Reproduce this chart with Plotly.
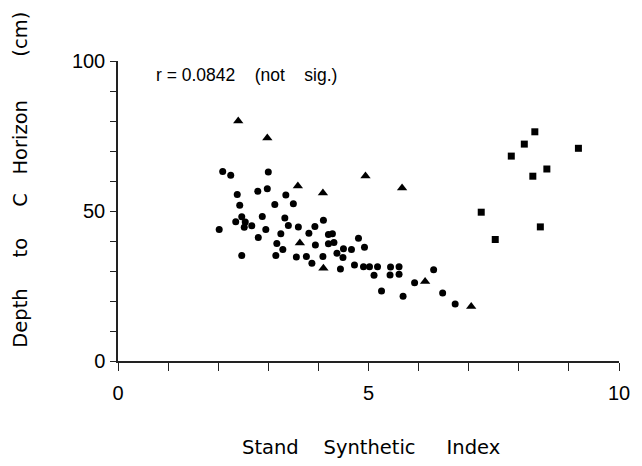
import plotly.graph_objects as go

# Stand Synthetic Index (x) vs Depth to C Horizon, cm (y)
circle_x = [2.09, 2.25, 3.00, 2.98, 2.79, 3.35, 2.38, 2.43, 3.13, 3.50,
            2.47, 2.88, 3.33, 4.10, 2.35, 2.54, 2.52, 2.67, 2.02, 2.95,
            3.40, 3.60, 3.93, 3.81, 4.20, 4.28, 4.80, 3.25, 2.80, 3.17,
            4.20, 4.31, 3.94, 4.92, 3.29, 4.50, 4.66, 4.37, 2.47, 3.15,
            3.56, 3.76, 4.09, 4.49, 3.87, 4.44, 4.72, 4.90, 5.02, 5.18,
            5.44, 5.61, 5.11, 5.43, 5.61, 5.26, 6.30, 5.92, 5.69, 6.48,
            6.73]
circle_y = [63.2, 61.9, 63.0, 57.4, 56.6, 55.3, 55.5, 51.9, 52.2, 52.4,
            48.1, 48.2, 47.7, 46.9, 46.4, 46.3, 44.6, 45.1, 43.8, 43.8,
            45.2, 44.7, 44.8, 42.6, 42.2, 42.4, 40.9, 42.4, 41.2, 39.2,
            39.1, 39.5, 38.7, 37.9, 37.2, 37.4, 37.2, 35.9, 35.2, 35.2,
            34.7, 34.8, 34.8, 34.5, 32.6, 30.7, 32.0, 31.4, 31.4, 31.4,
            31.3, 31.4, 28.6, 28.7, 28.9, 23.3, 30.4, 26.1, 21.6, 22.7,
            19.0]

triangle_x = [2.40, 2.98, 4.94, 3.59, 4.09, 3.63, 5.67, 4.10, 6.13, 7.05]
triangle_y = [80.0, 74.3, 61.7, 58.3, 56.0, 39.3, 57.7, 30.9, 26.5, 18.2]

square_x = [8.32, 8.11, 9.19, 7.85, 8.56, 8.28, 7.25, 8.43, 7.53]
square_y = [76.4, 72.3, 70.9, 68.3, 64.0, 61.6, 49.6, 44.7, 40.5]

x_tickvals = [0, 5, 10]
x_ticktext = ["0", "5", "10"]
y_tickvals = [0, 50, 100]
y_ticktext = ["0", "50", "100"]

NB = "\u00a0"
r_label = "r = 0.0842" + NB * 4 + "(not" + NB * 4 + "sig.)"
x_title = "Stand" + NB * 4 + "Synthetic" + NB * 5 + "Index"
y_title = "Depth" + NB * 5 + "to" + NB * 5 + "C" + NB * 3 + "Horizon" + NB * 7 + "(cm)"

FONT = "Liberation Sans"
TITLE_FONT = "DejaVu Sans"

fig = go.Figure()
fig.add_trace(go.Scatter(x=circle_x, y=circle_y, mode="markers",
                         marker=dict(symbol="circle", size=7, color="black"),
                         showlegend=False))
fig.add_trace(go.Scatter(x=triangle_x, y=triangle_y, mode="markers",
                         marker=dict(symbol="triangle-up", size=9, color="black"),
                         showlegend=False))
fig.add_trace(go.Scatter(x=square_x, y=square_y, mode="markers",
                         marker=dict(symbol="square", size=7, color="black"),
                         showlegend=False))

L, R, T, B = 118, 14, 61, 105
W, H = 642, 466
pw, ph = W - L - R, H - T - B

def px_x(px):
    return (px - L) / pw

def px_y(py):
    return (H - B - py) / ph

fig.update_layout(
    width=W, height=H,
    margin=dict(l=L, r=R, t=T, b=B, pad=0),
    plot_bgcolor="white", paper_bgcolor="white",
    font=dict(family=FONT, color="black"),
    showlegend=False,
)
fig.update_xaxes(range=[0, 10], tickmode="array", tickvals=x_tickvals, ticktext=x_ticktext,
                 ticks="outside", ticklen=8, tickwidth=1.2, tickcolor="#222",
                 showline=True, linecolor="#222", linewidth=1.5,
                 showgrid=False, zeroline=False,
                 tickfont=dict(size=20, family=FONT), ticklabelstandoff=5,
                 minor=dict(dtick=1, tick0=0, ticks="outside", ticklen=8,
                            tickwidth=1.2, tickcolor="#222", showgrid=False))
fig.update_yaxes(range=[0, 100], tickmode="array", tickvals=y_tickvals, ticktext=y_ticktext,
                 ticks="outside", ticklen=6, tickwidth=1.2, tickcolor="#222",
                 showline=True, linecolor="#222", linewidth=1.5,
                 showgrid=False, zeroline=False,
                 tickfont=dict(size=20, family=FONT), ticklabelstandoff=1,
                 minor=dict(dtick=10, tick0=0, ticks="outside", ticklen=6,
                            tickwidth=1.2, tickcolor="#222", showgrid=False))

fig.add_annotation(text=r_label, xref="paper", yref="paper",
                   x=px_x(155), y=px_y(75), xanchor="left", yanchor="middle",
                   showarrow=False, font=dict(size=17.5, family=FONT))
fig.add_annotation(text=x_title, xref="paper", yref="paper",
                   x=px_x(376), y=px_y(447), xanchor="center", yanchor="middle",
                   showarrow=False, font=dict(size=19.5, family=TITLE_FONT))
fig.add_annotation(text=y_title, xref="paper", yref="paper",
                   x=px_x(18), y=px_y(180), xanchor="center", yanchor="middle",
                   textangle=-90, showarrow=False, font=dict(size=19.5, family=TITLE_FONT))

fig.write_html("out.html", config={"displayModeBar": False},
               post_script="document.body.style.margin='0';")
